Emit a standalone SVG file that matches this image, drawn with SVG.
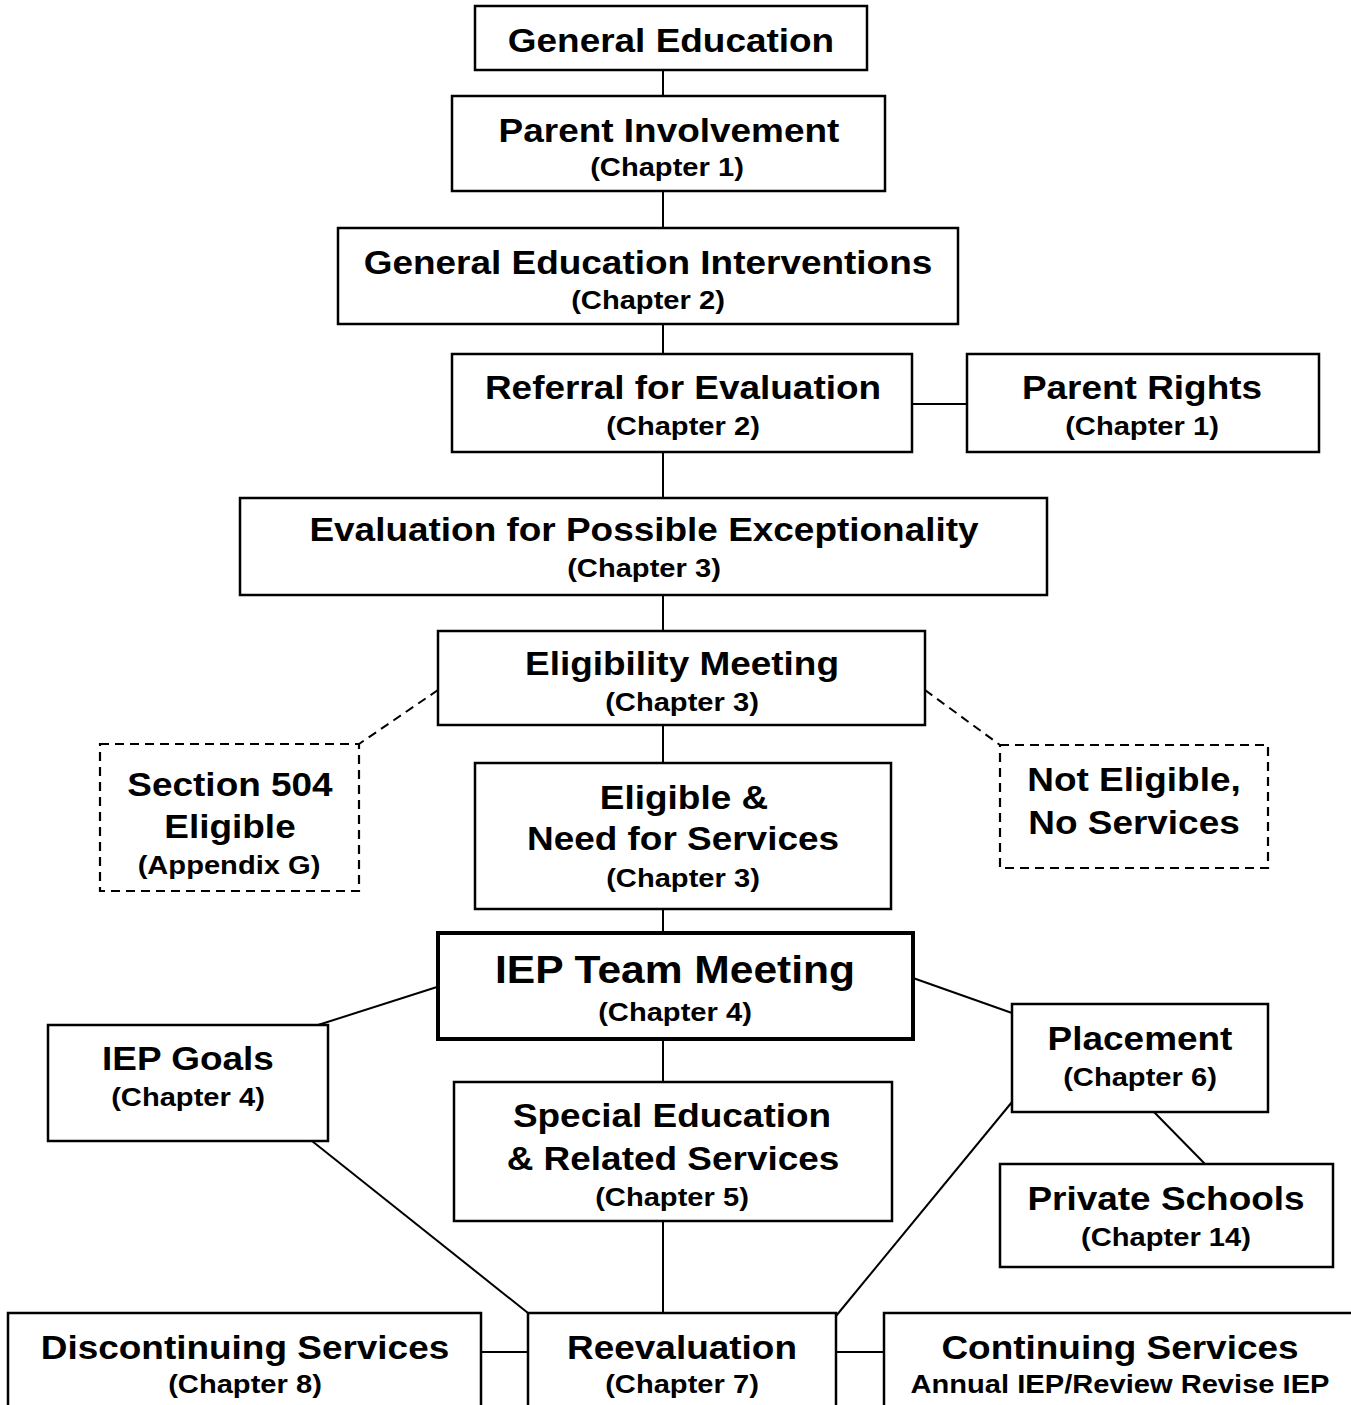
<svg xmlns="http://www.w3.org/2000/svg" width="1351" height="1405" viewBox="0 0 1351 1405">
  <style>
    .box { fill: #ffffff; stroke: #000000; stroke-width: 2.5; }
    .thick { stroke-width: 4; }
    .dash { stroke-dasharray: 9 6; stroke-width: 2.2; }
    .link { stroke: #000000; stroke-width: 2; fill: none; }
    .dlink { stroke: #000000; stroke-width: 2; fill: none; stroke-dasharray: 9 6; }
    text { font-family: "Liberation Sans", Arial, Helvetica, sans-serif; font-weight: bold; text-anchor: middle; fill: #000000; }
    .t { font-size: 33px; }
    .big { font-size: 38px; }
    .s { font-size: 26px; }
  </style>
  <rect width="1351" height="1405" fill="#ffffff"/>

  <!-- connectors -->
  <g id="connectors">
    <line class="link" x1="663" y1="70" x2="663" y2="96"/>
    <line class="link" x1="663" y1="191" x2="663" y2="228"/>
    <line class="link" x1="663" y1="324" x2="663" y2="354"/>
    <line class="link" x1="912" y1="404" x2="967" y2="404"/>
    <line class="link" x1="663" y1="452" x2="663" y2="498"/>
    <line class="link" x1="663" y1="595" x2="663" y2="631"/>
    <line class="dlink" x1="438" y1="690" x2="359" y2="744"/>
    <line class="dlink" x1="925" y1="690" x2="1000" y2="745"/>
    <line class="link" x1="663" y1="725" x2="663" y2="763"/>
    <line class="link" x1="663" y1="909" x2="663" y2="933"/>
    <line class="link" x1="437" y1="987" x2="318" y2="1025"/>
    <line class="link" x1="913" y1="978" x2="1012" y2="1013"/>
    <line class="link" x1="663" y1="1039" x2="663" y2="1082"/>
    <line class="link" x1="1154" y1="1112" x2="1205" y2="1164"/>
    <line class="link" x1="312" y1="1141" x2="528" y2="1313"/>
    <line class="link" x1="663" y1="1221" x2="663" y2="1313"/>
    <line class="link" x1="1012" y1="1102" x2="836" y2="1316"/>
    <line class="link" x1="481" y1="1352" x2="528" y2="1352"/>
    <line class="link" x1="836" y1="1352" x2="884" y2="1352"/>
  </g>

  <g id="general-education">
    <rect class="box" x="475" y="6" width="392" height="64"/>
    <text class="t" transform="translate(671,52) scale(1.12,1)">General Education</text>
  </g>

  <g id="parent-involvement">
    <rect class="box" x="452" y="96" width="433" height="95"/>
    <text class="t" transform="translate(669,142) scale(1.12,1)">Parent Involvement</text>
    <text class="s" transform="translate(667,176) scale(1.12,1)">(Chapter 1)</text>
  </g>

  <g id="gen-ed-interventions">
    <rect class="box" x="338" y="228" width="620" height="96"/>
    <text class="t" transform="translate(648,274) scale(1.12,1)">General Education Interventions</text>
    <text class="s" transform="translate(648,309) scale(1.12,1)">(Chapter 2)</text>
  </g>

  <g id="referral">
    <rect class="box" x="452" y="354" width="460" height="98"/>
    <text class="t" transform="translate(683,399) scale(1.12,1)">Referral for Evaluation</text>
    <text class="s" transform="translate(683,435) scale(1.12,1)">(Chapter 2)</text>
  </g>

  <g id="parent-rights">
    <rect class="box" x="967" y="354" width="352" height="98"/>
    <text class="t" transform="translate(1142,399) scale(1.12,1)">Parent Rights</text>
    <text class="s" transform="translate(1142,435) scale(1.12,1)">(Chapter 1)</text>
  </g>

  <g id="evaluation">
    <rect class="box" x="240" y="498" width="807" height="97"/>
    <text class="t" transform="translate(644,541) scale(1.12,1)">Evaluation for Possible Exceptionality</text>
    <text class="s" transform="translate(644,577) scale(1.12,1)">(Chapter 3)</text>
  </g>

  <g id="eligibility-meeting">
    <rect class="box" x="438" y="631" width="487" height="94"/>
    <text class="t" transform="translate(682,675) scale(1.12,1)">Eligibility Meeting</text>
    <text class="s" transform="translate(682,711) scale(1.12,1)">(Chapter 3)</text>
  </g>

  <g id="section-504">
    <rect class="box dash" x="100" y="744" width="259" height="147"/>
    <text class="t" transform="translate(230,796) scale(1.12,1)">Section 504</text>
    <text class="t" transform="translate(230,838) scale(1.12,1)">Eligible</text>
    <text class="s" transform="translate(229,874) scale(1.12,1)">(Appendix G)</text>
  </g>

  <g id="not-eligible">
    <rect class="box dash" x="1000" y="745" width="268" height="123"/>
    <text class="t" transform="translate(1134,791) scale(1.12,1)">Not Eligible,</text>
    <text class="t" transform="translate(1134,834) scale(1.12,1)">No Services</text>
  </g>

  <g id="eligible-need">
    <rect class="box" x="475" y="763" width="416" height="146"/>
    <text class="t" transform="translate(684,809) scale(1.12,1)">Eligible &amp;</text>
    <text class="t" transform="translate(683,850) scale(1.12,1)">Need for Services</text>
    <text class="s" transform="translate(683,887) scale(1.12,1)">(Chapter 3)</text>
  </g>

  <g id="iep-team-meeting">
    <rect class="box thick" x="438" y="933" width="475" height="106"/>
    <text class="big" transform="translate(675,983) scale(1.12,1)">IEP Team Meeting</text>
    <text class="s" transform="translate(675,1021) scale(1.12,1)">(Chapter 4)</text>
  </g>

  <g id="iep-goals">
    <rect class="box" x="48" y="1025" width="280" height="116"/>
    <text class="t" transform="translate(188,1070) scale(1.12,1)">IEP Goals</text>
    <text class="s" transform="translate(188,1106) scale(1.12,1)">(Chapter 4)</text>
  </g>

  <g id="special-education">
    <rect class="box" x="454" y="1082" width="438" height="139"/>
    <text class="t" transform="translate(672,1127) scale(1.12,1)">Special Education</text>
    <text class="t" transform="translate(673,1170) scale(1.12,1)">&amp; Related Services</text>
    <text class="s" transform="translate(672,1206) scale(1.12,1)">(Chapter 5)</text>
  </g>

  <g id="placement">
    <rect class="box" x="1012" y="1004" width="256" height="108"/>
    <text class="t" transform="translate(1140,1050) scale(1.12,1)">Placement</text>
    <text class="s" transform="translate(1140,1086) scale(1.12,1)">(Chapter 6)</text>
  </g>

  <g id="private-schools">
    <rect class="box" x="1000" y="1164" width="333" height="103"/>
    <text class="t" transform="translate(1166,1210) scale(1.12,1)">Private Schools</text>
    <text class="s" transform="translate(1166,1246) scale(1.12,1)">(Chapter 14)</text>
  </g>

  <g id="discontinuing-services">
    <rect class="box" x="8" y="1313" width="473" height="120"/>
    <text class="t" transform="translate(245,1359) scale(1.12,1)">Discontinuing Services</text>
    <text class="s" transform="translate(245,1393) scale(1.12,1)">(Chapter 8)</text>
  </g>

  <g id="reevaluation">
    <rect class="box" x="528" y="1313" width="308" height="120"/>
    <text class="t" transform="translate(682,1359) scale(1.12,1)">Reevaluation</text>
    <text class="s" transform="translate(682,1393) scale(1.12,1)">(Chapter 7)</text>
  </g>

  <g id="continuing-services">
    <rect class="box" x="884" y="1313" width="480" height="120"/>
    <text class="t" transform="translate(1120,1359) scale(1.12,1)">Continuing Services</text>
    <text class="s" transform="translate(1120,1393) scale(1.12,1)">Annual IEP/Review Revise IEP</text>
  </g>
</svg>
